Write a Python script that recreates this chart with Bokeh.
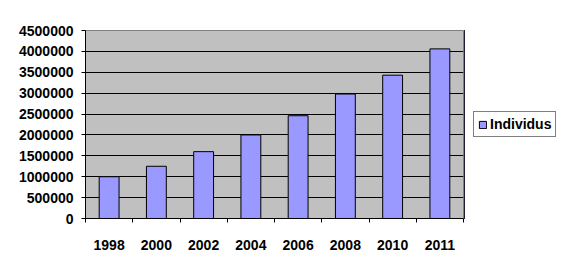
from bokeh.plotting import figure
from bokeh.layouts import row
from bokeh.models import ColumnDataSource, FixedTicker, Range1d, Legend, LegendItem, NumeralTickFormatter
from bokeh.embed import file_html
from bokeh.resources import INLINE

years = ["1998", "2000", "2002", "2004", "2006", "2008", "2010", "2011"]
individus = [1000000, 1250000, 1600000, 2000000, 2460000, 2980000, 3430000, 4060000]
y_ticks = [0, 500000, 1000000, 1500000, 2000000, 2500000, 3000000, 3500000, 4000000, 4500000]
series_name = "Individus"

n = len(years)
xpos = [i + 0.5 for i in range(n)]
src = ColumnDataSource(dict(x=xpos, y=individus, year=years))

BAR_FILL = "#9999FF"
FONT = "Liberation Sans"
FS = "14px"

p = figure(width=464, height=270, output_backend="svg", toolbar_location=None,
           x_range=Range1d(0, n), y_range=Range1d(0, 4500000),
           min_border_left=85, min_border_right=1, min_border_top=30, min_border_bottom=52)

p.background_fill_color = "#C0C0C0"
p.border_fill_color = "white"
p.outline_line_color = "#808080"
p.outline_line_width = 1

r = p.vbar(x="x", top="y", width=0.42, source=src, fill_color=BAR_FILL,
           line_color="black", line_width=1)

# y axis
p.yaxis.ticker = FixedTicker(ticks=y_ticks)
p.yaxis.formatter = NumeralTickFormatter(format="0")
p.yaxis.axis_line_color = "black"
p.yaxis.major_tick_out = 4
p.yaxis.major_tick_in = 0
p.yaxis.minor_tick_line_color = None
p.yaxis.major_label_text_font = FONT
p.yaxis.major_label_text_font_style = "bold"
p.yaxis.major_label_text_font_size = FS
p.yaxis.major_label_text_color = "black"
p.yaxis.major_label_standoff = 8

# x axis: labels at centers, ticks at boundaries
p.xaxis.ticker = FixedTicker(ticks=xpos, minor_ticks=list(range(n + 1)))
p.xaxis.major_label_overrides = {x: y for x, y in zip(xpos, years)}
p.xaxis.axis_line_color = "black"
p.xaxis.major_tick_out = 0
p.xaxis.major_tick_in = 0
p.xaxis.minor_tick_out = 4
p.xaxis.minor_tick_in = 0
p.xaxis.minor_tick_line_color = "black"
p.xaxis.major_label_text_font = FONT
p.xaxis.major_label_text_font_style = "bold"
p.xaxis.major_label_text_font_size = FS
p.xaxis.major_label_text_color = "black"
p.xaxis.major_label_standoff = 17

p.xgrid.grid_line_color = None
p.ygrid.grid_line_color = "black"
p.ygrid.grid_line_width = 1

# legend panel as a separate small figure (its bars lie outside its visible range)
p2 = figure(width=108, height=270, output_backend="svg", toolbar_location=None,
            x_range=Range1d(n + 100, n + 101), y_range=Range1d(0, 1),
            min_border_left=0, min_border_right=0, min_border_top=30, min_border_bottom=52)
p2.axis.visible = False
p2.grid.grid_line_color = None
p2.outline_line_color = None
p2.background_fill_color = "white"
p2.border_fill_color = "white"
r2 = p2.vbar(x="x", top="y", width=0.42, source=src, fill_color=BAR_FILL,
             line_color="black", line_width=1)

legend = Legend(items=[LegendItem(label=series_name, renderers=[r2])],
                location="center_left", orientation="vertical",
                border_line_color="black", border_line_width=1,
                background_fill_color="white", background_fill_alpha=1,
                glyph_width=9, glyph_height=9, label_standoff=3,
                padding=4, margin=9, spacing=0,
                label_text_font=FONT, label_text_font_style="bold",
                label_text_color="black",
                label_text_font_size=FS, label_height=12)
p2.add_layout(legend, "center")

layout = row(p, p2, spacing=0)
open("out.html", "w").write(file_html(layout, INLINE))
